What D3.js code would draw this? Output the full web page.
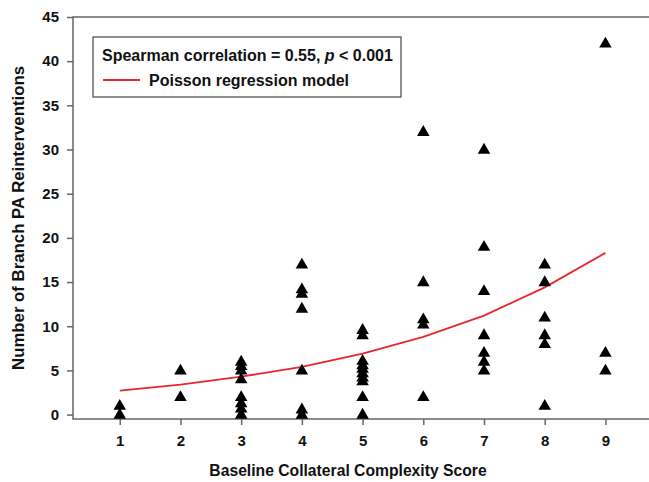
<!DOCTYPE html>
<html>
<head>
<meta charset="utf-8">
<script src="https://cdn.jsdelivr.net/npm/d3@7"></script>
<style>
  body { margin: 0; background: #fff; }
  text { font-family: "Liberation Sans", Arial, sans-serif; font-weight: bold; }
</style>
</head>
<body>
<div id="chart"></div>
<script>
// scores (x) and reinterventions (y)
const scores = [1, 1, 2, 2, 3, 3, 3, 3, 3, 3, 3, 3, 4, 4, 4, 4, 4, 4, 4,
  5, 5, 5, 5, 5, 5, 5, 5, 5, 5, 6, 6, 6, 6, 6, 7, 7, 7, 7, 7, 7, 7,
  8, 8, 8, 8, 8, 8, 9, 9, 9];
const reinterventions = [1, 0, 5, 2, 6, 5.5, 5, 4, 2, 1.3, 0.7, 0, 17, 14.2, 13.7, 12, 5, 0.6, 0,
  9.6, 9, 6.1, 5.6, 5.2, 4.7, 4.2, 3.8, 2, 0, 32, 15, 10.8, 10.2, 2, 30, 19, 14, 9, 7, 6, 5,
  17, 15, 11, 9, 8, 1, 42, 7, 5];
// Poisson regression model fit at each score
const modelX = [1, 2, 3, 4, 5, 6, 7, 8, 9];
const modelY = [2.7, 3.4, 4.3, 5.4, 6.9, 8.8, 11.2, 14.4, 18.3];
const xTicks = [1, 2, 3, 4, 5, 6, 7, 8, 9];
const yTicks = [0, 5, 10, 15, 20, 25, 30, 35, 40, 45];

const width = 649;
const height = 482;
const marginTop = 17;
const marginLeft = 73;
const plotBottom = 419;

const svg = d3.select("#chart")
    .append("svg")
    .attr("width", width)
    .attr("height", height);

const x = d3.scaleLinear()
    .domain([0.23, 9.8])
    .range([marginLeft, width + 5]);

const y = d3.scaleLinear()
    .domain([-0.5, 45])
    .range([plotBottom, marginTop]);

const axisColor = "#666";

// frame (right side runs off the picture)
svg.append("rect")
    .attr("x", marginLeft)
    .attr("y", marginTop)
    .attr("width", width + 10 - marginLeft)
    .attr("height", plotBottom - marginTop)
    .attr("fill", "none")
    .attr("stroke", axisColor)
    .attr("stroke-width", 1.5);

// x axis
const gx = svg.append("g")
    .attr("transform", `translate(0,${plotBottom})`)
    .call(d3.axisBottom(x).tickValues(xTicks).tickSize(6).tickPadding(10).tickFormat(d3.format("d")));
gx.select(".domain").remove();
gx.selectAll("line").attr("stroke", axisColor).attr("stroke-width", 1.5);
gx.selectAll("text").attr("font-size", 15).attr("fill", "#111");

// y axis
const gy = svg.append("g")
    .attr("transform", `translate(${marginLeft},0)`)
    .call(d3.axisLeft(y).tickValues(yTicks).tickSize(6).tickPadding(8));
gy.select(".domain").remove();
gy.selectAll("line").attr("stroke", axisColor).attr("stroke-width", 1.5);
gy.selectAll("text").attr("font-size", 15).attr("fill", "#111");

// axis titles
svg.append("text")
    .attr("x", 348)
    .attr("y", 476)
    .attr("text-anchor", "middle")
    .attr("font-size", 15.7)
    .attr("fill", "#111")
    .text("Baseline Collateral Complexity Score");

svg.append("text")
    .attr("transform", "translate(24,218) rotate(-90)")
    .attr("text-anchor", "middle")
    .attr("font-size", 16.8)
    .attr("fill", "#111")
    .text("Number of Branch PA Reinterventions");

// model line
const line = d3.line()
    .x((d, i) => x(modelX[i]))
    .y(d => y(d));

svg.append("path")
    .datum(modelY)
    .attr("d", line)
    .attr("fill", "none")
    .attr("stroke", "#e8262b")
    .attr("stroke-width", 1.8);

// points
const tri = d3.symbol().type(d3.symbolTriangle).size(68);
svg.append("g")
    .selectAll("path")
    .data(scores)
    .join("path")
    .attr("d", tri)
    .attr("transform", (d, i) => `translate(${x(d)},${y(reinterventions[i]) + 0.5})`)
    .attr("fill", "#000");

// legend
const legend = svg.append("g");
legend.append("rect")
    .attr("x", 93)
    .attr("y", 37)
    .attr("width", 308)
    .attr("height", 60)
    .attr("fill", "#fff")
    .attr("stroke", "#555")
    .attr("stroke-width", 1.3);

const l1 = legend.append("text")
    .attr("x", 102)
    .attr("y", 61)
    .attr("font-size", 16)
    .attr("fill", "#111");
l1.append("tspan").text("Spearman correlation = 0.55, ");
l1.append("tspan").attr("font-style", "italic").text("p");
l1.append("tspan").text(" < 0.001");

legend.append("line")
    .attr("x1", 103)
    .attr("x2", 140)
    .attr("y1", 80)
    .attr("y2", 80)
    .attr("stroke", "#e8262b")
    .attr("stroke-width", 1.8);

legend.append("text")
    .attr("x", 149)
    .attr("y", 86)
    .attr("font-size", 16)
    .attr("fill", "#111")
    .text("Poisson regression model");
</script>
</body>
</html>
